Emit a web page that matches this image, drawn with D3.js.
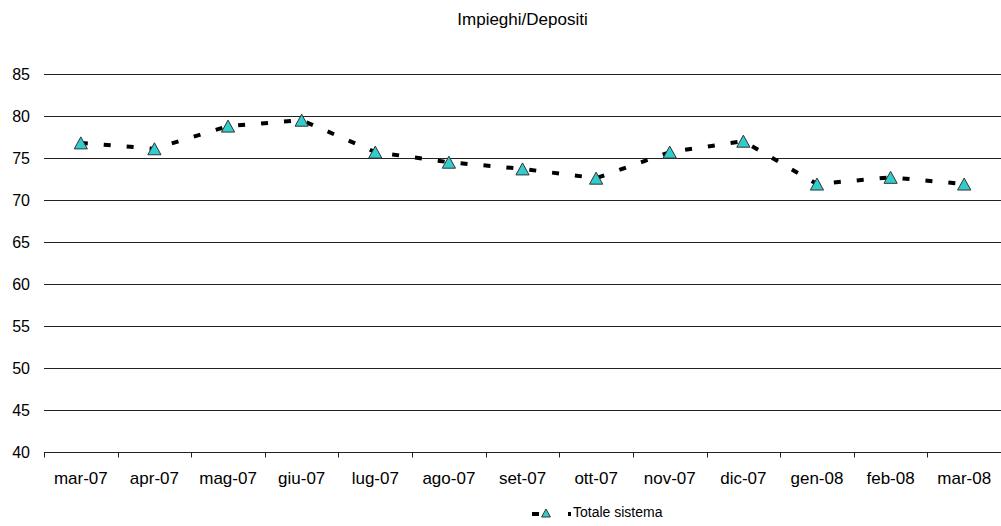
<!DOCTYPE html>
<html>
<head>
<meta charset="utf-8">
<style>
  body { margin: 0; background: #fff; }
  svg { display: block; font-family: "Liberation Sans", Arial, sans-serif; }
</style>
<script src="https://d3js.org/d3.v7.min.js"></script>
</head>
<body>
<div id="chart"></div>
<script>
var months = ["mar-07","apr-07","mag-07","giu-07","lug-07","ago-07","set-07","ott-07","nov-07","dic-07","gen-08","feb-08","mar-08"];
var totaleSistema = [76.8, 76.1, 78.8, 79.5, 75.7, 74.5, 73.7, 72.6, 75.7, 77.0, 71.9, 72.7, 71.9];
var yTicks = [40, 45, 50, 55, 60, 65, 70, 75, 80, 85];
var chartTitle = "Impieghi/Depositi";
var seriesName = "Totale sistema";

var width = 1001, height = 526;
var plotLeft = 44, plotRight = 1001, plotTop = 74, plotBottom = 452;

var svg = d3.select("#chart").append("svg")
    .attr("width", width)
    .attr("height", height);

var x = d3.scaleBand().domain(months).range([plotLeft, plotRight]).padding(0);
var y = d3.scaleLinear().domain([40, 85]).range([plotBottom, plotTop]);

// title
svg.append("text")
    .attr("x", (plotLeft + plotRight) / 2)
    .attr("y", 25)
    .attr("text-anchor", "middle")
    .attr("font-size", "17px")
    .text(chartTitle);

// gridlines
svg.append("g").selectAll("line")
    .data(yTicks.slice(1))
    .enter().append("line")
    .attr("x1", plotLeft).attr("x2", plotRight)
    .attr("y1", function(d){ return Math.round(y(d)) + 0.5; })
    .attr("y2", function(d){ return Math.round(y(d)) + 0.5; })
    .attr("stroke", "#222")
    .attr("stroke-width", 1);

// y labels
svg.append("g").selectAll("text")
    .data(yTicks)
    .enter().append("text")
    .attr("x", 30)
    .attr("y", function(d){ return y(d); })
    .attr("dy", "0.36em")
    .attr("text-anchor", "end")
    .attr("font-size", "16px")
    .text(function(d){ return d; });

// x axis
var xAxis = d3.axisBottom(x).tickSize(0).tickPadding(0);
var gx = svg.append("g")
    .attr("transform", "translate(0," + (Math.round(y(40)) + 0.5) + ")")
    .call(xAxis);
gx.select(".domain").attr("stroke", "#222").attr("d", "M" + plotLeft + ",0H" + plotRight);
gx.selectAll(".tick text")
    .attr("y", 31)
    .attr("dy", 0)
    .attr("font-size", "17px")
    .attr("font-family", "Liberation Sans, Arial, sans-serif")
    .attr("fill", "#000");
// category boundary ticks
var boundaries = months.map(function(m){ return x(m); }).concat([plotRight]);
gx.selectAll(".bound")
    .data(boundaries)
    .enter().append("line")
    .attr("class", "bound")
    .attr("x1", function(d){ return Math.round(d) + 0.5; })
    .attr("x2", function(d){ return Math.round(d) + 0.5; })
    .attr("y1", 0).attr("y2", 5)
    .attr("stroke", "#222");

// series line
var line = d3.line()
    .x(function(d, i){ return x(months[i]) + x.bandwidth() / 2; })
    .y(function(d){ return y(d); });

svg.append("path")
    .datum(totaleSistema)
    .attr("d", line)
    .attr("fill", "none")
    .attr("stroke", "#000")
    .attr("stroke-width", 4)
    .attr("stroke-dasharray", "7,16");

function tri(s) {
  return "M0," + (-s) + "L" + (s * 1.1) + "," + s + "L" + (-s * 1.1) + "," + s + "Z";
}

svg.append("g").selectAll("path")
    .data(totaleSistema)
    .enter().append("path")
    .attr("transform", function(d, i){ return "translate(" + (x(months[i]) + x.bandwidth() / 2) + "," + y(d) + ")"; })
    .attr("d", tri(6))
    .attr("fill", "#33CCCC")
    .attr("stroke", "#333")
    .attr("stroke-width", 1);

// legend
var lg = svg.append("g");
lg.append("line")
    .attr("x1", 532).attr("x2", 571)
    .attr("y1", 514).attr("y2", 514)
    .attr("stroke", "#000")
    .attr("stroke-width", 4)
    .attr("stroke-dasharray", "7,29");
lg.append("path")
    .attr("transform", "translate(546,513)")
    .attr("d", tri(4))
    .attr("fill", "#33CCCC")
    .attr("stroke", "#333")
    .attr("stroke-width", 1);
lg.append("text")
    .attr("x", 573)
    .attr("y", 517)
    .attr("font-size", "14px")
    .text(seriesName);
</script>
</body>
</html>
